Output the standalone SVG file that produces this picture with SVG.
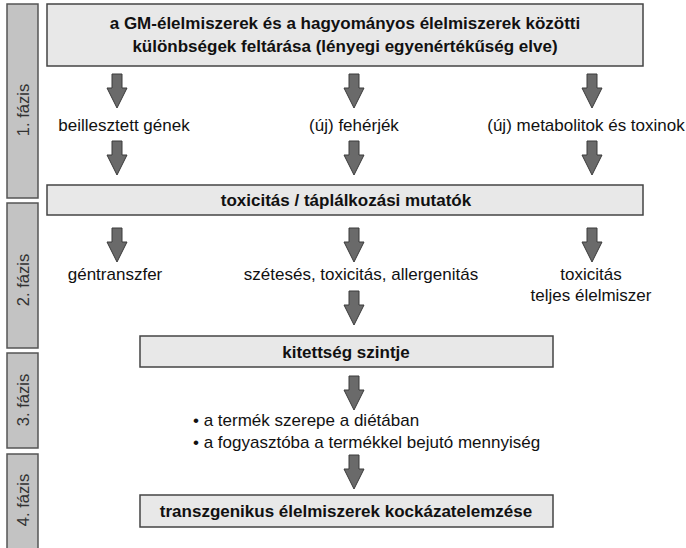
<svg xmlns="http://www.w3.org/2000/svg" width="686" height="548" viewBox="0 0 686 548">
<style>
.phase{fill:#c3c3c3;stroke:#555;stroke-width:1.5}
.box{fill:#e8e8e8;stroke:#444;stroke-width:1.5}
.pt{font-family:"Liberation Sans",Arial,sans-serif;font-size:16.5px;fill:#333;text-anchor:middle}
.bt{font-family:"Liberation Sans",Arial,sans-serif;font-size:17px;font-weight:bold;fill:#111;text-anchor:middle}
.lt{font-family:"Liberation Sans",Arial,sans-serif;font-size:17px;fill:#111}
.arr{fill:#6a6a6a;stroke:#3a3a3a;stroke-width:1}
</style>
<defs>
<path id="ar" d="M-5,0 H5 V14 H10 L0,34 L-10,14 H-5 Z"/>
</defs>
<rect width="686" height="548" fill="#fff"/>
<g id="phases">
<rect class="phase" x="7" y="4" width="31" height="194"/>
<text class="pt" transform="translate(29,110) rotate(-90)">1. fázis</text>
<rect class="phase" x="7" y="203" width="31" height="145"/>
<text class="pt" transform="translate(29,280) rotate(-90)">2. fázis</text>
<rect class="phase" x="7" y="353" width="31" height="95"/>
<text class="pt" transform="translate(29,400) rotate(-90)">3. fázis</text>
<rect class="phase" x="7" y="454" width="31" height="100"/>
<text class="pt" transform="translate(29,500) rotate(-90)">4. fázis</text>
</g>
<g id="n-top">
<rect class="box" x="47" y="4" width="596" height="62"/>
<text class="bt" x="345" y="29">a GM-élelmiszerek és a hagyományos élelmiszerek közötti</text>
<text class="bt" x="345" y="52">különbségek feltárása (lényegi egyenértékűség elve)</text>
</g>
<g id="n-genes"><text class="lt" x="124" y="131" text-anchor="middle">beillesztett gének</text></g>
<g id="n-proteins"><text class="lt" x="354" y="131" text-anchor="middle">(új) fehérjék</text></g>
<g id="n-metab"><text class="lt" x="586" y="131" text-anchor="middle">(új) metabolitok és toxinok</text></g>
<g id="n-tox">
<rect class="box" x="47" y="185" width="596" height="30"/>
<text class="bt" x="346" y="206">toxicitás / táplálkozási mutatók</text>
</g>
<g id="n-gene-transfer"><text class="lt" x="115" y="280" text-anchor="middle">géntranszfer</text></g>
<g id="n-degradation"><text class="lt" x="361" y="280" text-anchor="middle">szétesés, toxicitás, allergenitás</text></g>
<g id="n-whole"><text class="lt" x="591" y="280" text-anchor="middle">toxicitás</text><text class="lt" x="591" y="301" text-anchor="middle">teljes élelmiszer</text></g>
<g id="n-exposure">
<rect class="box" x="140" y="336" width="413" height="31"/>
<text class="bt" x="346" y="358">kitettség szintje</text>
</g>
<g id="n-bullets">
<text class="lt" x="193" y="426">• a termék szerepe a diétában</text>
<text class="lt" x="193" y="448">• a fogyasztóba a termékkel bejutó mennyiség</text>
</g>
<g id="n-risk">
<rect class="box" x="140" y="495" width="413" height="32"/>
<text class="bt" x="346" y="517">transzgenikus élelmiszerek kockázatelemzése</text>
</g>
<g id="connectors">
<use href="#ar" class="arr" transform="translate(117,74)"/>
<use href="#ar" class="arr" transform="translate(354,74)"/>
<use href="#ar" class="arr" transform="translate(592,74)"/>
<use href="#ar" class="arr" transform="translate(117,141)"/>
<use href="#ar" class="arr" transform="translate(354,141)"/>
<use href="#ar" class="arr" transform="translate(592,141)"/>
<use href="#ar" class="arr" transform="translate(117,228)"/>
<use href="#ar" class="arr" transform="translate(354,228)"/>
<use href="#ar" class="arr" transform="translate(592,228)"/>
<use href="#ar" class="arr" transform="translate(354,291)"/>
<use href="#ar" class="arr" transform="translate(354,376)"/>
<use href="#ar" class="arr" transform="translate(354,455)"/>
</g>
</svg>
